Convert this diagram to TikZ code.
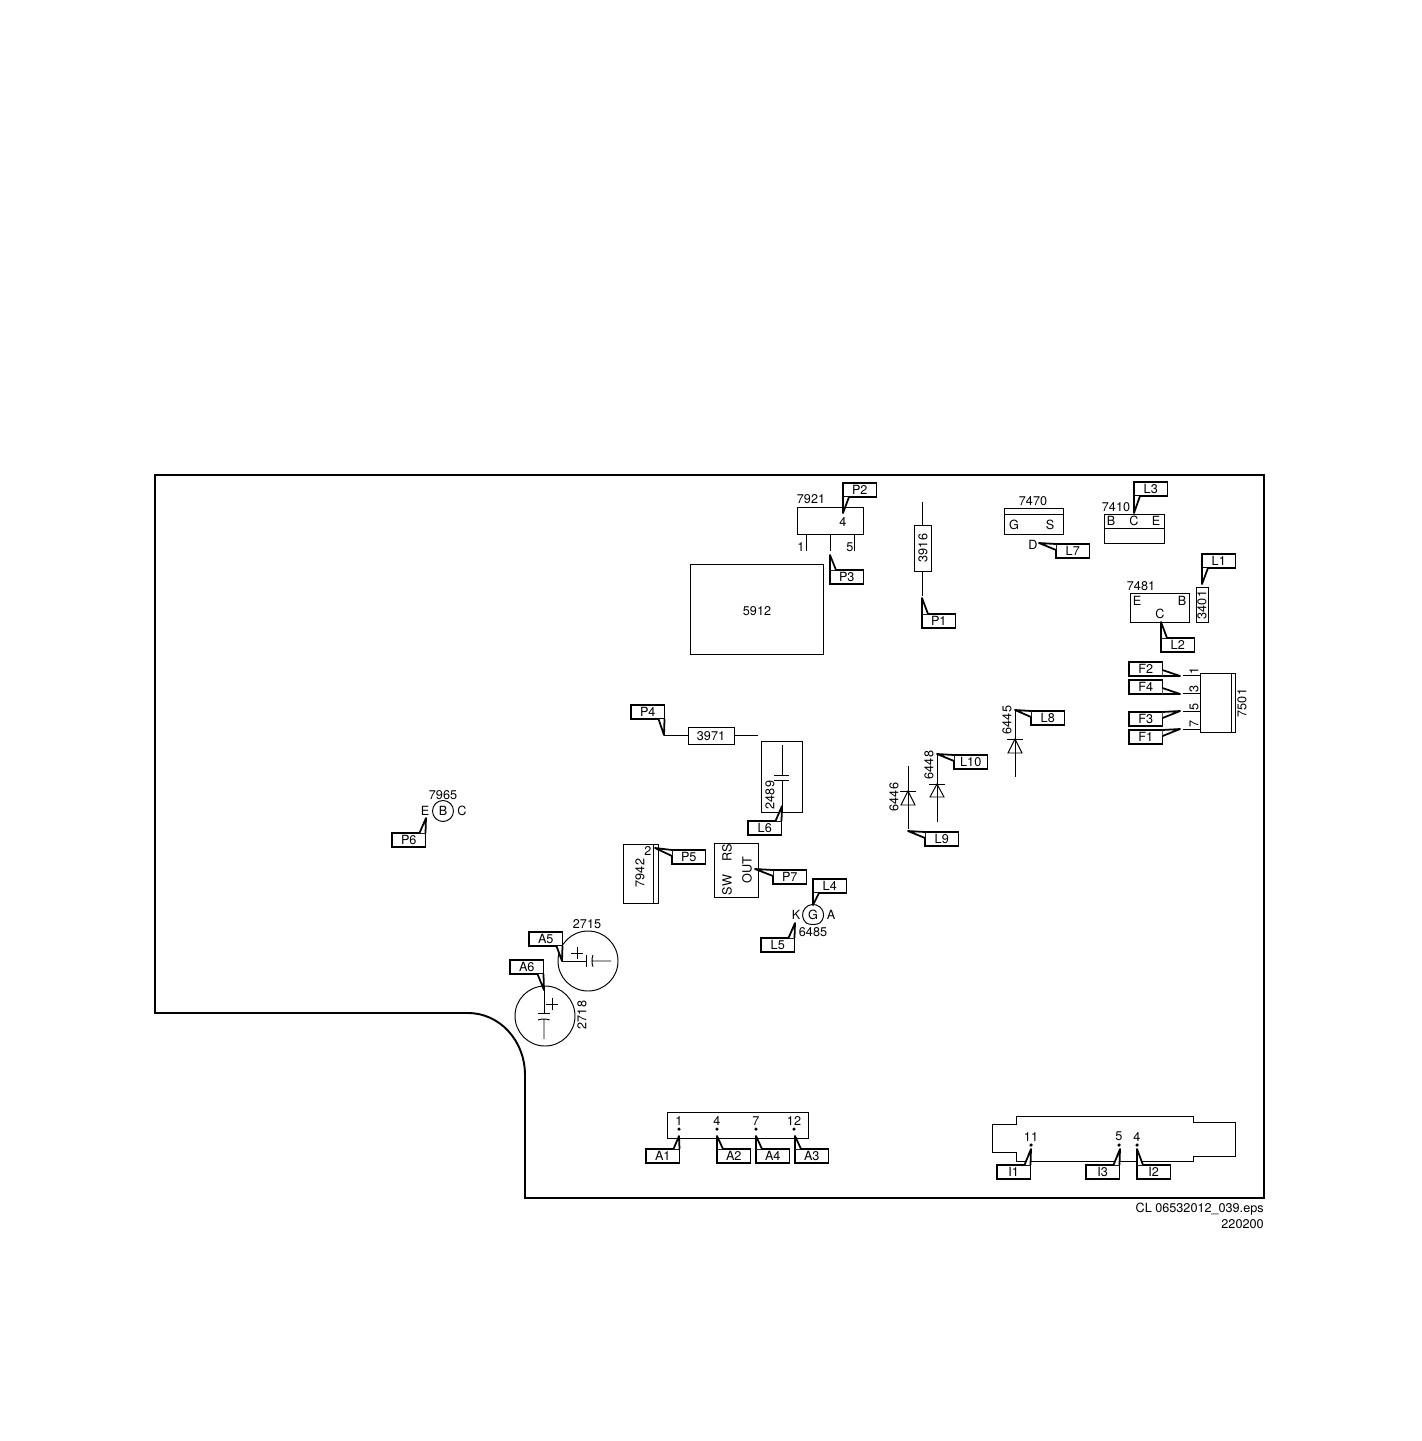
\documentclass[tikz,border=0pt]{standalone}
\usepackage{fontspec}
\setmainfont{TeX Gyre Heros}
\usetikzlibrary{calc}
\tikzset{
  part/.style={line width=0.55pt},
  board/.style={line width=1.1pt},
  lbl/.style={inner sep=0pt,font=\fontsize{7.2}{8.6}\selectfont},
  vlbl/.style={lbl,rotate=90},
  tagbox/.style={draw,line width=1pt,fill=white,inner sep=0pt,outer sep=0pt,
    minimum width=0.67cm,minimum height=0.28cm,anchor=north west,
    font=\fontsize{7.2}{8.6}\selectfont},
  tagline/.style={line width=1pt,line join=round,fill=white},
  solder/.style={circle,fill=black,inner sep=0pt,minimum size=2pt}
}
\begin{document}
\begin{tikzpicture}[x=0.02cm,y=-0.02cm]
    \useasboundingbox (0,0) rectangle (1421,1441);
    % Board outline
    \draw[board] (155,475) -- (1264,475) -- (1264,1198) -- (525,1198) -- (525,1075)
        .. controls (525,1041) and (500,1013) .. (468,1013) -- (155,1013) -- cycle;
    % Boxes
    \draw[part] (797,507) rectangle (863,534);
    \draw[part] (690,564) rectangle (823,654);
    \draw[part] (914,525) rectangle (931,571);
    \draw[part] (922,502) -- (922,525) (922,571) -- (922,596);
    \foreach \x in {806,830,854} \draw[part] (\x,534) -- (\x,551);
    \draw[part] (1004,508) rectangle (1063,534);
    \draw[part] (1004,514) -- (1063,514);
    \draw[part] (1104,514) rectangle (1164,543);
    \draw[part] (1104,528) -- (1164,528);
    \draw[part] (1130,593) rectangle (1189,622);
    \draw[part] (1196,587) rectangle (1208,622);
    \draw[part] (1200,673) rectangle (1235,732);
    \draw[part] (1231,673) -- (1231,732);
    \foreach \y in {675,693,711,729} \draw[part] (1183,\y) -- (1200,\y);
    \draw[part] (688,727) rectangle (734,744);
    \draw[part] (664,735) -- (688,735) (734,735) -- (758,735);
    \draw[part] (761,741) rectangle (802,812);
    \draw[part] (782,745) -- (782,775) (774,775) -- (789,775);
    \draw[part] (774,780) -- (789,780) (782,780) -- (782,812);
    \draw[part] (623,844) rectangle (658,903);
    \draw[part] (653,844) -- (653,903);
    \draw[part] (714,843) rectangle (758,897);
    % Diodes
    \foreach \x/\ya/\yb/\yc/\yd in {1015/711/739/753/777,937/755/784/797/822,908/766/791/805/829} {
        \draw[part] (\x,\ya) -- (\x,\yd);
        \draw[part] (\x-8,\yb) -- (\x+8,\yb);
        \draw[part] (\x,\yb) -- (\x-7,\yc) -- (\x+7,\yc) -- cycle;
    }
    % Transistors
    \draw[part] (806.3,923) arc (130:410:10.5) .. controls (817,925) and (809,925) .. cycle;
    \draw[part] (443,811) circle (10.5);
    % Electrolytics
    \draw[part] (588,961) circle (30);
    \draw[part] (562,961) -- (586,961) (586,955) -- (586,967);
    \draw[part] (593,955) arc (200:160:17) (592,961) -- (611,961);
    \draw[part] (571,953) -- (583,953) (577,947) -- (577,959);
    \draw[part] (545,1016) circle (30);
    \draw[part] (544,990) -- (544,1013) (538,1013) -- (550,1013);
    \draw[part] (538,1020) arc (250:290:17) (544,1019) -- (544,1039);
    \draw[part] (546,1004) -- (558,1004) (552,998) -- (552,1010);
    % Connectors
    \draw[part] (667,1112) rectangle (808,1138);
    \draw[part] (992,1124) -- (1016,1124) -- (1016,1116) -- (1193,1116) -- (1193,1122) -- (1235,1122)
        -- (1235,1156) -- (1193,1156) -- (1193,1161) -- (1016,1161) -- (1016,1152) -- (992,1152) -- cycle;
    \foreach \nm/\x/\y/\txt in {a1/679/1129/1,a4/717/1129/4,a7/756/1129/7,a12/794/1129/12,
        i11/1031/1145/11,i5/1119/1145/5,i4/1137/1145/4} {
        \node[solder] (dot\nm) at (\x,\y) {};
        \node[lbl,above=0.8pt] (num\nm) at (dot\nm.north) {\txt};
    }
    % Part labels
    \foreach \nm/\x/\y/\txt in {a/811/499/7921,b/843/522/4,c/801/547/1,d/850/547/5,e/757/611/5912,
        f/1033/501/7470,g/1014/525/G,h/1050/525/S,j/1033/545/D,k/1116/507/7410,l/1111/521/B,
        m/1134/521/C,n/1156/521/E,o/1141/586/7481,p/1137/601/E,q/1182/601/B,r/1160/614/C,
        s/711/736/3971,t/648/851/2,u/796/915/K,v/813/915/G,w/831/915/A,x/813/932/6485,
        y/443/795/7965,z/425/811/E,aa/443/811/B,ab/462/811/C,ac/587/924/2715} {
        \node[lbl] (lbl\nm) at (\x,\y) {\txt};
    }
    \foreach \nm/\x/\y/\txt in {a/923/548/3916,b/1202/605/3401,c/1194/671/1,d/1194/689/3,e/1194/707/5,
        f/1194/724/7,g/1242/703/7501,h/1007/720/6445,i/929/765/6448,j/894/797/6446,k/770/795/2489,
        l/640/873/7942,m/727/853/RS,n/747/870/OUT,o/727/885/SW,p/582/1015/2718} {
        \node[vlbl] (vlbl\nm) at (\x,\y) {\txt};
    }
    % Callout tags
    \foreach \nm/\bx/\by/\tx/\ty/\cn/\dx/\dy in {
        P1/922/614/922/598/north west/6/0, P2/843/483/843/513/south west/6/0,
        P3/830/570/830/555/north west/6/0, P4/631/705/664/735/south east/-6/0,
        P5/672/850/655/848/north west/0/6, P6/392/833/426/818/north east/-6/0,
        P7/773/870/755/869/north west/0/6, L1/1202/554/1202/584/south west/6/0,
        L2/1161/638/1161/622/north west/6/0, L3/1134/482/1134/513/south west/6/0,
        L4/813/879/813/905/south west/6/0, L5/761/938/795/923/north east/-6/0,
        L6/748/821/782/806/north east/-6/0, L7/1056/544/1039/543/north west/0/6,
        L8/1031/711/1015/710/north west/0/6, L9/925/832/908/831/north west/0/6,
        L10/954/755/937/754/north west/0/6, F1/1129/730/1180/729/north east/0/6,
        F2/1129/662/1180/676/south east/0/-6, F3/1129/712/1180/711/north east/0/6,
        F4/1129/680/1180/694/south east/0/-6, A1/646/1149/679/1136/north east/-6/0,
        A2/717/1149/717/1136/north west/6/0, A3/795/1149/795/1136/north west/6/0,
        A4/756/1149/756/1136/north west/6/0, A5/529/932/562/961/south east/-6/0,
        A6/510/960/544/990/south east/-6/0, I1/997/1165/1031/1149/north east/-6/0,
        I2/1137/1165/1137/1149/north west/6/0, I3/1086/1165/1120/1149/north east/-6/0} {
        \node[tagbox] (tag\nm) at (\bx,\by) {\nm};
        \coordinate (tip\nm) at (\tx,\ty);
        \draw[tagline] (tag\nm.\cn) -- (tip\nm) -- ($(tag\nm.\cn)+(\dx,\dy)$);
    }
    % Drawing number
    \node[lbl,anchor=east] (drawno) at (1264,1209) {CL 06532012\_039.eps};
    \node[lbl,anchor=east] (drawdate) at (1264,1224) {220200};
\end{tikzpicture}
\end{document}
